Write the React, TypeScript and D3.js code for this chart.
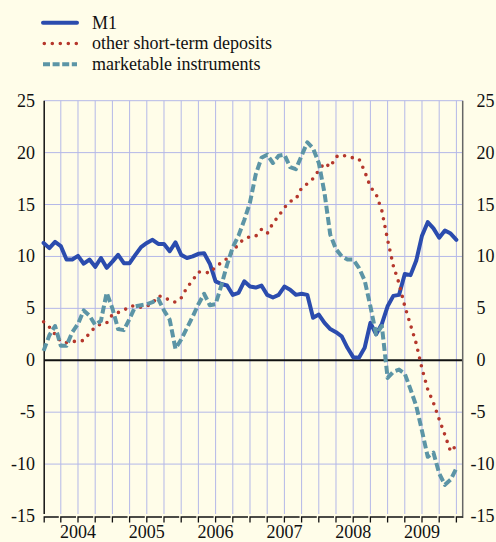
import React from 'react';
import * as d3 from 'd3';

const W = 496;
const H = 542;

// monthly observations, Jan 2004 .. Jan 2010
const m1 = [11.3,10.8,11.4,11.0,9.7,9.7,10.05,9.3,9.7,9.0,
  9.85,8.9,9.5,10.15,9.35,9.35,10.15,10.9,11.3,11.6,
  11.2,11.2,10.5,11.35,10.15,9.85,10.0,10.25,10.3,9.3,
  7.6,7.35,7.2,6.3,6.5,7.6,7.1,7.0,7.2,6.3,
  6.05,6.3,7.1,6.8,6.3,6.4,6.3,4.1,4.4,3.6,
  3.0,2.7,2.3,1.2,0.3,0.25,1.2,3.6,2.5,3.5,
  5.2,6.2,6.3,8.3,8.2,9.6,12.0,13.3,12.7,11.8,
  12.5,12.2,11.6];

const deposits = [3.7,3.2,2.5,1.8,1.7,1.8,1.85,1.9,2.6,3.2,
  3.5,3.6,4.4,4.6,4.8,5.2,5.25,5.1,5.2,5.5,
  6.2,6.1,5.75,5.6,6.0,7.0,7.7,8.5,8.5,8.4,
  9.0,9.4,9.8,10.5,11.2,11.7,11.9,11.95,12.6,12.2,
  13.2,13.9,14.7,15.3,15.5,16.6,17.0,17.5,18.3,19.0,
  18.6,19.6,19.8,19.6,19.5,19.4,18.2,16.7,16.0,14.4,
  11.6,9.1,7.4,5.2,3.4,1.6,-0.8,-2.8,-4.1,-5.7,
  -7.2,-8.8,-8.2];

const marketable = [0.9,2.4,3.3,1.4,1.4,2.7,3.5,4.8,4.3,3.4,
  3.8,6.5,5.0,3.0,2.9,4.0,5.2,5.3,5.4,5.6,
  5.9,4.8,3.9,1.1,2.0,3.1,4.2,5.4,6.4,5.3,
  5.4,7.2,9.2,10.9,12.0,13.5,15.2,17.9,19.5,19.8,
  19.0,19.7,19.8,18.6,18.4,19.7,21.0,20.4,19.0,16.1,
  12.1,10.7,10.0,9.7,9.7,8.9,7.7,5.2,2.5,3.3,
  -1.7,-1.1,-0.9,-1.3,-2.8,-4.4,-6.8,-9.3,-8.9,-10.9,
  -12.0,-11.5,-10.4];

const yTicks = [25, 20, 15, 10, 5, 0, -5, -10, -15];
const years = ['2004', '2005', '2006', '2007', '2008', '2009'];
const seriesNames = ['M1', 'other short-term deposits', 'marketable instruments'];

const BG = '#fffde9';
const GRID = '#b4b8e8';
const BLUE = '#2b4cae';
const RED = '#b5372c';
const TEAL = '#5c95a6';
const FONT = "'Liberation Serif', 'Times New Roman', Times, serif";

export default function App() {
  const x = d3.scaleLinear().domain([0, 73.1]).range([43.6, 462.7]);
  const y = d3.scaleLinear().domain([-15, 25]).range([516, 100.7]);
  const left = 44.2;
  const right = 462.7;
  const top = y(25);
  const bottom = y(-15);

  const line = d3.line<number>().x((_, i) => x(i)).y((d) => y(d));

  const quarters = d3.range(0, 73, 3);
  const styles = [
    { stroke: BLUE, width: 4, dash: undefined as string | undefined, cap: 'round' as const },
    { stroke: RED, width: 3.6, dash: '0 8', cap: 'round' as const },
    { stroke: TEAL, width: 4, dash: '8 3.5', cap: 'butt' as const },
  ];
  const data = [m1, deposits, marketable];
  const txt = { fontFamily: FONT, fontSize: '18px', fill: '#111' };

  return (
    <svg width={W} height={H} style={{ position: 'absolute', left: 0, top: 0, fontFamily: FONT }}
      xmlns="http://www.w3.org/2000/svg">
      <rect x={0} y={0} width={W} height={H} fill={BG} />

      {/* legend */}
      {seriesNames.map((name, i) => {
        const cy = 22.7 + i * 20.8;
        const s = styles[i];
        return (
          <g key={name}>
            <line x1={i === 1 ? 44.3 : 43} x2={77} y1={cy} y2={cy}
              stroke={s.stroke} strokeWidth={s.width}
              strokeDasharray={i === 2 ? '7 2.6' : s.dash} strokeLinecap={s.cap} />
            <text x={92} y={cy + 5.9} style={txt}>{name}</text>
          </g>
        );
      })}

      {/* horizontal grid */}
      {yTicks.filter((t) => t !== 0 && t !== -15).map((t) => (
        <line key={'h' + t} x1={left} x2={right} y1={y(t)} y2={y(t)} stroke={GRID} strokeWidth={1} />
      ))}
      {/* vertical grid */}
      {quarters.filter((q) => q > 0).map((q) => (
        <line key={'v' + q} x1={x(q)} x2={x(q)} y1={top} y2={bottom - 2} stroke={GRID} strokeWidth={1} />
      ))}

      {/* zero line */}
      <line x1={left} x2={right} y1={y(0)} y2={y(0)} stroke="#111" strokeWidth={2} />

      {/* axes */}
      <line x1={left} x2={left} y1={top} y2={bottom - 2} stroke="#111" strokeWidth={1.5} />
      <line x1={right} x2={right} y1={top} y2={bottom + 2} stroke="#666" strokeWidth={1.5} />
      {quarters.map((q, i) => {
        const x0 = i === 0 ? left : x(q);
        const x1 = i < quarters.length - 1 ? x(quarters[i + 1]) - 2 : right;
        return (
          <path key={'t' + q} d={`M${x0},${bottom + 6.5}V${bottom + 1}H${x1}`}
            fill="none" stroke="#111" strokeWidth={1.3} />
        );
      })}

      {/* series */}
      {data.map((d, i) => (
        <path key={'s' + i} d={line(d) || ''} fill="none" stroke={styles[i].stroke}
          strokeWidth={styles[i].width} strokeDasharray={styles[i].dash}
          strokeLinecap={styles[i].cap} strokeLinejoin="round" />
      ))}

      {/* left tick labels */}
      {yTicks.map((t) => (
        <text key={'l' + t} x={35} y={y(t) + 6} textAnchor="end" style={txt}>{String(t)}</text>
      ))}
      {/* right tick labels */}
      {yTicks.map((t) => (
        <g key={'r' + t}>
          {t < 0 && (
            <text x={476.5} y={y(t) + 6} textAnchor="end" style={txt}>-</text>
          )}
          <text x={476.5} y={y(t) + 6} textAnchor="start" style={txt}>{String(Math.abs(t))}</text>
        </g>
      ))}

      {/* year labels */}
      {years.map((yr, i) => (
        <text key={yr} x={x(6 + 12 * i)} y={537.5} textAnchor="middle" style={txt}>{yr}</text>
      ))}
    </svg>
  );
}
